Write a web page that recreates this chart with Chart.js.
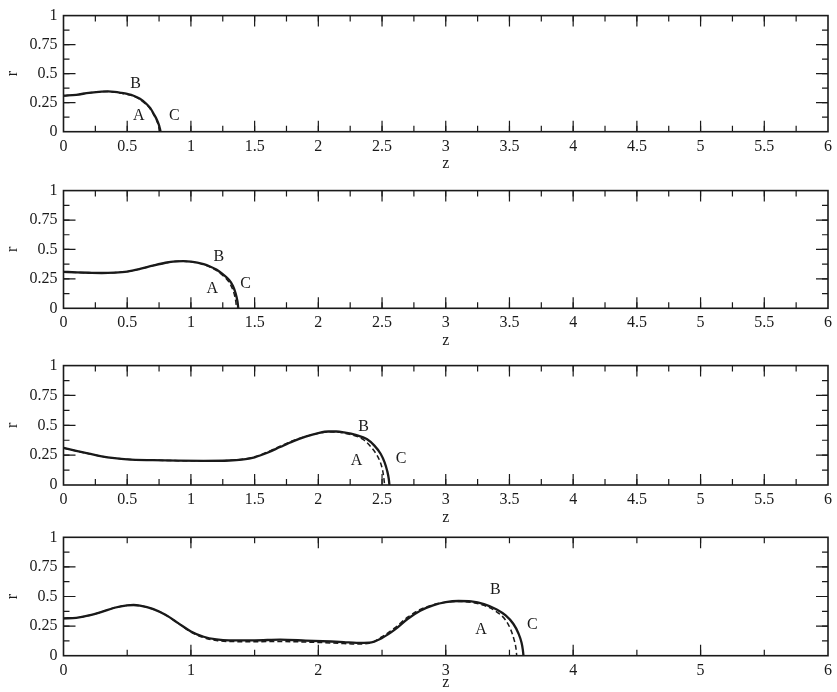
<!DOCTYPE html>
<html>
<head>
<meta charset="utf-8">
<script src="https://cdn.jsdelivr.net/npm/chart.js@4/dist/chart.umd.min.js"></script>
<style>
  html, body { margin: 0; padding: 0; background: #fff; }
  body { width: 837px; height: 692px; position: relative; overflow: hidden; }
  canvas { position: absolute; left: 0; }
</style>
</head>
<body>
<canvas id="c1"></canvas>
<canvas id="c2"></canvas>
<canvas id="c3"></canvas>
<canvas id="c4"></canvas>
<script>
// ---------- DATA ----------
// Tick labels
const xTickLabelsHalf = ['0','0.5','1','1.5','2','2.5','3','3.5','4','4.5','5','5.5','6'];
const xTickLabelsUnit = ['0','1','2','3','4','5','6'];
const yTickLabels = ['0','0.25','0.5','0.75','1'];
const pointLabels = ['A','B','C'];

// Panel 1
const p1SolidZ = [0, 0.1, 0.2, 0.3, 0.35, 0.4, 0.45, 0.5, 0.55, 0.6, 0.65, 0.68, 0.71, 0.73, 0.75, 0.758, 0.762];
const p1SolidR = [0.31, 0.318, 0.335, 0.346, 0.347, 0.343, 0.335, 0.325, 0.31, 0.283, 0.24, 0.205, 0.15, 0.11, 0.055, 0.02, 0];
const p1DashZ  = [0, 0.1, 0.2, 0.3, 0.35, 0.4, 0.45, 0.5, 0.55, 0.6, 0.65, 0.68, 0.71, 0.73, 0.745, 0.753, 0.757];
const p1DashR  = [0.31, 0.318, 0.335, 0.345, 0.346, 0.342, 0.333, 0.322, 0.306, 0.278, 0.234, 0.198, 0.142, 0.1, 0.055, 0.02, 0];
const p1LabelZ = [0.59, 0.566, 0.87];
const p1LabelR = [0.133, 0.414, 0.133];

// Panel 2
const p2SolidZ = [0, 0.1, 0.2, 0.3, 0.4, 0.5, 0.6, 0.7, 0.8, 0.88, 0.94, 1.0, 1.05, 1.1, 1.15, 1.2, 1.25, 1.3, 1.33, 1.35, 1.365, 1.372];
const p2SolidR = [0.31, 0.305, 0.302, 0.300, 0.303, 0.312, 0.334, 0.362, 0.387, 0.399, 0.401, 0.397, 0.389, 0.375, 0.355, 0.33, 0.29, 0.24, 0.19, 0.13, 0.06, 0];
const p2DashZ  = [0, 0.1, 0.2, 0.3, 0.4, 0.5, 0.6, 0.7, 0.8, 0.88, 0.94, 1.0, 1.05, 1.1, 1.15, 1.2, 1.25, 1.29, 1.32, 1.34, 1.352, 1.358];
const p2DashR  = [0.31, 0.305, 0.302, 0.300, 0.303, 0.312, 0.334, 0.362, 0.386, 0.398, 0.400, 0.395, 0.386, 0.371, 0.35, 0.322, 0.28, 0.235, 0.18, 0.12, 0.06, 0];
const p2LabelZ = [1.168, 1.22, 1.43];
const p2LabelR = [0.164, 0.438, 0.204];

// Panel 3
const p3SolidZ = [0, 0.1, 0.2, 0.3, 0.4, 0.5, 0.7, 0.9, 1.1, 1.3, 1.4, 1.5, 1.6, 1.7, 1.8, 1.9, 2.0, 2.08, 2.14, 2.2, 2.3, 2.38, 2.44, 2.49, 2.52, 2.54, 2.553, 2.558];
const p3SolidR = [0.31, 0.285, 0.262, 0.24, 0.225, 0.215, 0.208, 0.204, 0.202, 0.205, 0.213, 0.232, 0.27, 0.318, 0.365, 0.405, 0.435, 0.448, 0.448, 0.441, 0.418, 0.385, 0.33, 0.26, 0.19, 0.12, 0.05, 0];
const p3DashZ  = [0, 0.1, 0.2, 0.3, 0.4, 0.5, 0.7, 0.9, 1.1, 1.3, 1.4, 1.5, 1.6, 1.7, 1.8, 1.9, 2.0, 2.08, 2.14, 2.2, 2.3, 2.36, 2.42, 2.46, 2.49, 2.505, 2.515, 2.52];
const p3DashR  = [0.31, 0.285, 0.262, 0.24, 0.225, 0.215, 0.208, 0.204, 0.202, 0.206, 0.215, 0.237, 0.276, 0.325, 0.37, 0.407, 0.434, 0.445, 0.444, 0.435, 0.408, 0.375, 0.31, 0.25, 0.18, 0.12, 0.05, 0];
const p3LabelZ = [2.30, 2.355, 2.65];
const p3LabelR = [0.203, 0.487, 0.219];

// Panel 4
const p4SolidZ = [0, 0.1, 0.2, 0.3, 0.4, 0.5, 0.55, 0.6, 0.7, 0.8, 0.9, 1.0, 1.1, 1.2, 1.3, 1.5, 1.7, 1.9, 2.1, 2.2, 2.3, 2.4, 2.5, 2.6, 2.7, 2.8, 2.9, 3.0, 3.1, 3.2, 3.3, 3.4, 3.47, 3.53, 3.57, 3.595, 3.605, 3.61];
const p4SolidR = [0.315, 0.32, 0.34, 0.37, 0.405, 0.425, 0.428, 0.422, 0.395, 0.345, 0.275, 0.205, 0.16, 0.138, 0.13, 0.13, 0.135, 0.128, 0.12, 0.115, 0.108, 0.11, 0.15, 0.22, 0.31, 0.38, 0.425, 0.452, 0.462, 0.458, 0.435, 0.39, 0.34, 0.27, 0.19, 0.11, 0.05, 0];
const p4DashZ  = [0, 0.1, 0.2, 0.3, 0.4, 0.5, 0.55, 0.6, 0.7, 0.8, 0.9, 1.0, 1.1, 1.2, 1.3, 1.5, 1.7, 1.9, 2.1, 2.2, 2.3, 2.4, 2.5, 2.6, 2.7, 2.8, 2.9, 3.0, 3.1, 3.2, 3.3, 3.4, 3.47, 3.51, 3.535, 3.55, 3.557];
const p4DashR  = [0.315, 0.32, 0.34, 0.37, 0.405, 0.425, 0.428, 0.422, 0.395, 0.345, 0.275, 0.2, 0.152, 0.128, 0.12, 0.118, 0.12, 0.115, 0.108, 0.103, 0.098, 0.105, 0.16, 0.235, 0.325, 0.39, 0.43, 0.452, 0.458, 0.45, 0.425, 0.37, 0.3, 0.22, 0.14, 0.07, 0];
const p4LabelZ = [3.277, 3.39, 3.68];
const p4LabelR = [0.217, 0.555, 0.26];

// ---------- LAYOUT (page coordinates) ----------
const panels = [
  { id:'c1', top:0,   plotTop:14,    plotBottom:131.7, titleY:164, sz:p1SolidZ, sr:p1SolidR, dz:p1DashZ, dr:p1DashR, lz:p1LabelZ, lr:p1LabelR, xLabels:xTickLabelsHalf, xMajor:0.5, xMinor:0.25 },
  { id:'c2', top:175, plotTop:184.3, plotBottom:308.3, titleY:341, sz:p2SolidZ, sr:p2SolidR, dz:p2DashZ, dr:p2DashR, lz:p2LabelZ, lr:p2LabelR, xLabels:xTickLabelsHalf, xMajor:0.5, xMinor:0.25 },
  { id:'c3', top:350, plotTop:361.7, plotBottom:485,   titleY:518, sz:p3SolidZ, sr:p3SolidR, dz:p3DashZ, dr:p3DashR, lz:p3LabelZ, lr:p3LabelR, xLabels:xTickLabelsHalf, xMajor:0.5, xMinor:0.25 },
  { id:'c4', top:520, plotTop:537.3, plotBottom:655.7, titleY:683, sz:p4SolidZ, sr:p4SolidR, dz:p4DashZ, dr:p4DashR, lz:p4LabelZ, lr:p4LabelR, xLabels:xTickLabelsUnit, xMajor:1,   xMinor:0.5 }
];

const FONT = "'Liberation Serif', 'DejaVu Serif', serif";
const INK = '#1a1a1a';
const PLOT_LEFT = 63.5;
const PLOT_RIGHT = 832.3;
const W = 837;
const FS = 16;

const framePlugin = {
  id: 'frameTicks',
  afterDatasetsDraw(chart, args, opts) {
    const ctx = chart.ctx;
    const xs = chart.scales.x, ys = chart.scales.y;
    const {left, right, top, bottom} = chart.chartArea;
    ctx.save();
    ctx.strokeStyle = INK;
    ctx.lineWidth = 1.2;
    const drawX = (step, len) => {
      for (let v = step; v < 6 - 1e-9; v += step) {
        const px = xs.getPixelForValue(v);
        ctx.beginPath();
        ctx.moveTo(px, bottom); ctx.lineTo(px, bottom - len);
        ctx.moveTo(px, top); ctx.lineTo(px, top + len);
        ctx.stroke();
      }
    };
    const drawY = (step, len) => {
      for (let v = step; v < 1 - 1e-9; v += step) {
        const py = ys.getPixelForValue(v);
        ctx.beginPath();
        ctx.moveTo(left, py); ctx.lineTo(left + len, py);
        ctx.moveTo(right, py); ctx.lineTo(right - len, py);
        ctx.stroke();
      }
    };
    drawX(opts.xMinor, 6);
    drawX(opts.xMajor, 11);
    drawY(0.125, 6);
    drawY(0.25, 12);
    ctx.lineWidth = 1.6;
    ctx.strokeRect(left, top, right - left, bottom - top);
    ctx.fillStyle = INK;
    ctx.font = FS + 'px ' + FONT;
    ctx.textAlign = 'center';
    ctx.textBaseline = 'middle';
    opts.lz.forEach((z, i) => {
      ctx.fillText(pointLabels[i], xs.getPixelForValue(z), ys.getPixelForValue(opts.lr[i]));
    });
    ctx.restore();
  }
};

panels.forEach(p => {
  const H = Math.round(p.titleY - p.top + 12);
  const cv = document.getElementById(p.id);
  cv.width = W; cv.height = H;
  cv.style.width = W + 'px'; cv.style.height = H + 'px';
  cv.style.top = p.top + 'px';
  const xScaleH = H - (p.plotBottom - p.top);
  const titleLH = FS * 1.2;
  const titleBottomPad = H - (p.titleY - p.top) - titleLH / 2;
  const xValues = p.xLabels.map(Number);
  const yValues = yTickLabels.map(Number);

  new Chart(cv, {
    type: 'scatter',
    data: {
      datasets: [
        {
          label: 'dashed',
          data: p.dz.map((z, i) => ({x: z, y: p.dr[i]})),
          showLine: true, pointRadius: 0, borderColor: INK, borderWidth: 1.5,
          borderDash: [5, 3], cubicInterpolationMode: 'monotone', fill: false
        },
        {
          label: 'solid',
          data: p.sz.map((z, i) => ({x: z, y: p.sr[i]})),
          showLine: true, pointRadius: 0, borderColor: INK, borderWidth: 2.3,
          cubicInterpolationMode: 'monotone', fill: false
        }
      ]
    },
    options: {
      responsive: false,
      animation: false,
      devicePixelRatio: 1,
      events: [],
      layout: { autoPadding: false, padding: { left: 0, right: W - PLOT_RIGHT, top: p.plotTop - p.top, bottom: 0 } },
      plugins: {
        legend: { display: false },
        tooltip: { enabled: false },
        frameTicks: { xMajor: p.xMajor, xMinor: p.xMinor, lz: p.lz, lr: p.lr }
      },
      scales: {
        x: {
          type: 'linear', min: 0, max: 6,
          grid: { display: false, drawTicks: false },
          border: { display: false },
          afterBuildTicks: s => { s.ticks = xValues.map(v => ({ value: v })); },
          afterFit: s => { s.height = xScaleH; },
          ticks: {
            autoSkip: false, maxRotation: 0, padding: 5, color: INK,
            font: { family: FONT, size: FS },
            callback: (v, i) => p.xLabels[i]
          },
          title: { display: true, text: 'z', color: INK, font: { family: FONT, size: FS }, padding: { top: 0, bottom: titleBottomPad } }
        },
        y: {
          type: 'linear', min: 0, max: 1,
          grid: { display: false, drawTicks: false },
          border: { display: false },
          afterBuildTicks: s => { s.ticks = yValues.map(v => ({ value: v })); },
          afterFit: s => { s.width = PLOT_LEFT; },
          ticks: {
            autoSkip: false, padding: 6, color: INK,
            font: { family: FONT, size: FS },
            callback: (v, i) => yTickLabels[i]
          },
          title: { display: true, text: 'r', color: INK, font: { family: FONT, size: FS }, padding: { top: 3, bottom: 0 } }
        }
      }
    },
    plugins: [framePlugin]
  });
});
</script>
</body>
</html>
